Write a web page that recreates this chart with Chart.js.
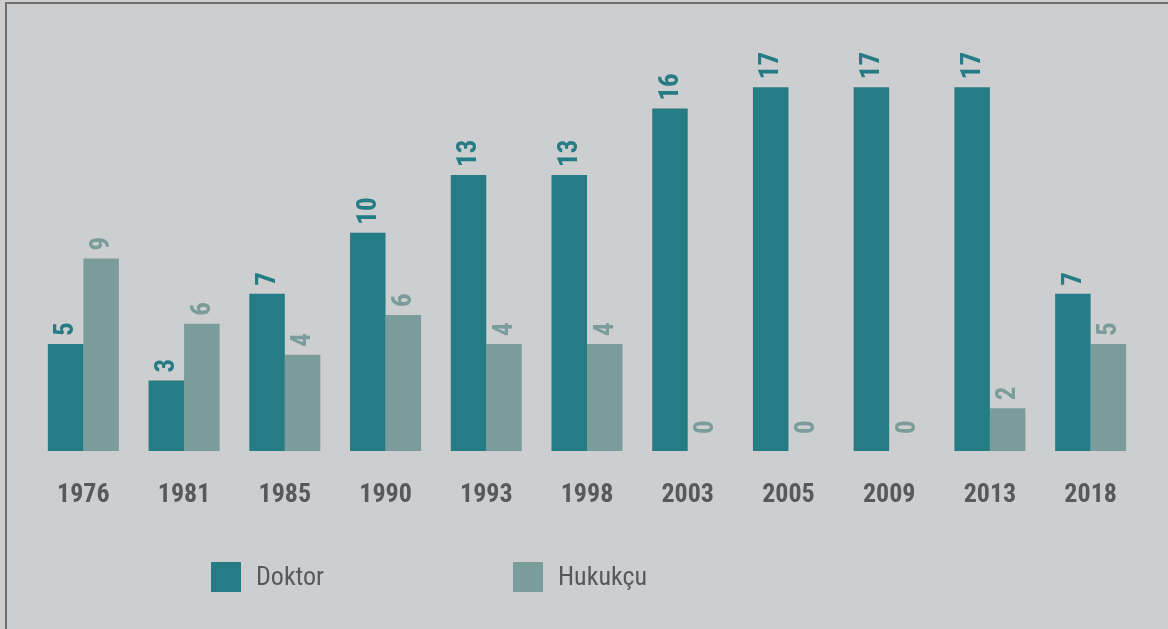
<!DOCTYPE html>
<html>
<head>
<meta charset="utf-8">
<script src="https://cdn.jsdelivr.net/npm/chart.js@4.4.0/dist/chart.umd.min.js"></script>
<style>
    html, body { margin: 0; padding: 0; background: #cdcecf; }
    #wrap {
        position: absolute; left: 5px; top: 2px;
        width: 1200px; height: 660px;
        border-left: 2px solid #6e6e6e; border-top: 2px solid #6e6e6e;
        background: #cdcecf;
    }
    #chartBox { position: absolute; left: 0; top: 0; width: 1168px; height: 629px; }
</style>
</head>
<body>
<div id="wrap"></div>
<div id="chartBox"><canvas id="Chart_Meslek"></canvas></div>
<script>
// dữ liệu biểu đồ (chiều cao cột, nhãn là số in trên cột)
var years = ['1976', '1981', '1985', '1990', '1993', '1998', '2003', '2005', '2009', '2013', '2018'];
var doktor = [5, 3.3, 7.35, 10.2, 12.9, 12.9, 16, 17, 17, 17, 7.35];
var hukukcu = [9, 5.95, 4.5, 6.35, 5, 5, 0, 0, 0, 2, 5];
var doktorLabels = ['5', '3', '7', '10', '13', '13', '16', '17', '17', '17', '7'];
var hukukcuLabels = ['9', '6', '4', '6', '4', '4', '0', '0', '0', '2', '5'];
var seriesNames = ['Doktor', 'Hukukçu'];
var seriesColors = ['#267c85', '#7a9c9b'];

var FONT = "'Roboto Condensed', 'Liberation Sans Narrow', Roboto, sans-serif";
var allLabels = [doktorLabels, hukukcuLabels];

// plugin vẽ nhãn giá trị (xoay dọc) và chú thích
const labelPlugin = {
    id: 'value_labels_legend',
    afterDatasetsDraw: (chart) => {
        const ctx = chart.ctx;
        ctx.save();
        ctx.font = 'bold 27px ' + FONT;
        chart.data.datasets.forEach(function (ds, i) {
            var meta = chart.getDatasetMeta(i);
            meta.data.forEach(function (bar, j) {
                var gap = ds.data[j] === 0 ? 17 : 8;
                ctx.save();
                ctx.translate(bar.x + 1, bar.y - gap);
                ctx.rotate(-Math.PI / 2);
                ctx.fillStyle = ds.backgroundColor;
                ctx.textAlign = 'left';
                ctx.textBaseline = 'middle';
                ctx.fillText(allLabels[i][j], 0, 0);
                ctx.restore();
            });
        });
        // chú thích
        var lx = [211, 513];
        ctx.font = '26px ' + FONT;
        ctx.textBaseline = 'middle';
        ctx.textAlign = 'left';
        for (var k = 0; k < seriesNames.length; k++) {
            ctx.fillStyle = seriesColors[k];
            ctx.fillRect(lx[k], 562, 30, 30);
            ctx.fillStyle = '#58595b';
            ctx.fillText(seriesNames[k], lx[k] + 45, 578);
        }
        ctx.restore();
    }
};

var ctx1 = document.getElementById('Chart_Meslek');
var Chart_Meslek = new Chart(ctx1, {
    type: 'bar',
    data: {
        labels: years,
        datasets: [{
            label: seriesNames[0],
            data: doktor,
            backgroundColor: seriesColors[0]
        }, {
            label: seriesNames[1],
            data: hukukcu,
            backgroundColor: seriesColors[1]
        }]
    },
    options: {
        responsive: true,
        maintainAspectRatio: false,
        animation: false,
        datasets: {
            bar: {
                categoryPercentage: 0.705,
                barPercentage: 1.0
            }
        },
        plugins: {
            legend: { display: false },
            tooltip: { enabled: false }
        },
        layout: {
            padding: {
                left: 33,
                right: 27,
                top: 23,
                bottom: 0
            }
        },
        scales: {
            x: {
                grid: { display: false, drawTicks: false },
                border: { display: false },
                ticks: {
                    color: '#58595b',
                    padding: 29,
                    font: {
                        family: FONT,
                        size: 26,
                        weight: 'bold'
                    }
                },
                afterFit: function (scale) {
                    scale.height = 178;
                }
            },
            y: {
                display: false,
                min: 0,
                max: 20
            }
        }
    },
    plugins: [labelPlugin]
});
</script>
</body>
</html>
